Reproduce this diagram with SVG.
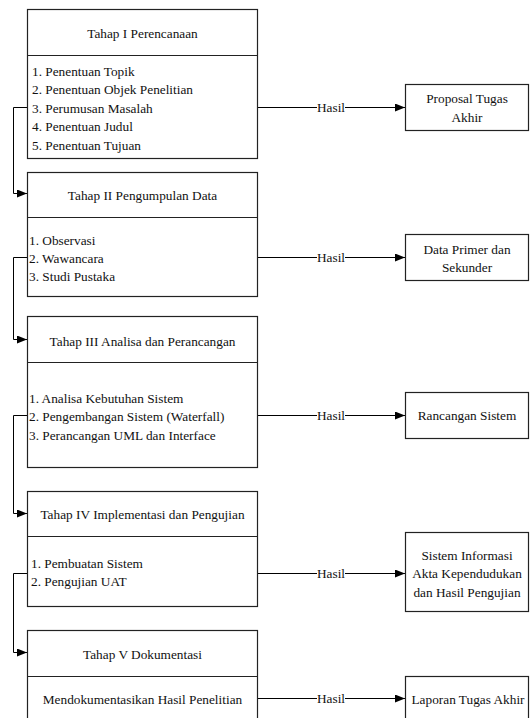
<svg xmlns="http://www.w3.org/2000/svg" width="530" height="718" viewBox="0 0 530 718">
  <style>
    .box { fill: #ffffff; stroke: #222222; stroke-width: 1.2; }
    .div { stroke: #222222; stroke-width: 1.2; }
    .ln { fill: none; stroke: #000000; stroke-width: 1; }
    text { font-family: 'Liberation Serif', Tinos, 'DejaVu Serif', Times, serif; font-size: 13.3px; fill: #111111; }
    .c { text-anchor: middle; }
  </style>
  <defs>
    <marker id="arrow" viewBox="0 0 10 8" refX="10" refY="4" markerWidth="10" markerHeight="8" markerUnits="userSpaceOnUse" orient="auto">
      <path d="M0,0 L10,4 L0,8 Z" fill="#000000"/>
    </marker>
  </defs>
  <rect x="0" y="0" width="530" height="718" fill="#ffffff"/>

  <!-- connectors -->
  <g id="connectors">
    <!-- stage to stage, along the left side -->
    <path class="ln" d="M27,107.5 H13.5 V193.5 H27" marker-end="url(#arrow)"/>
    <path class="ln" d="M27,257.5 H13.5 V339.5 H27" marker-end="url(#arrow)"/>
    <path class="ln" d="M27,415.5 H13.5 V513.5 H27" marker-end="url(#arrow)"/>
    <path class="ln" d="M27,573.5 H13.5 V652.5 H27" marker-end="url(#arrow)"/>
    <!-- stage to result -->
    <path class="ln" d="M257,107.5 H317"/>
    <path class="ln" d="M345,107.5 H405" marker-end="url(#arrow)"/>
    <text class="c" x="331" y="112">Hasil</text>
    <path class="ln" d="M257,257.5 H317"/>
    <path class="ln" d="M345,257.5 H405" marker-end="url(#arrow)"/>
    <text class="c" x="331" y="262">Hasil</text>
    <path class="ln" d="M257,415.5 H317"/>
    <path class="ln" d="M345,415.5 H405" marker-end="url(#arrow)"/>
    <text class="c" x="331" y="420">Hasil</text>
    <path class="ln" d="M257,573.5 H317"/>
    <path class="ln" d="M345,573.5 H405" marker-end="url(#arrow)"/>
    <text class="c" x="331" y="578">Hasil</text>
    <path class="ln" d="M257,698.5 H317"/>
    <path class="ln" d="M345,698.5 H405" marker-end="url(#arrow)"/>
    <text class="c" x="331" y="703">Hasil</text>
  </g>

  <!-- stage I -->
  <g id="tahap1">
    <rect class="box" x="27.5" y="9.5" width="230" height="149"/>
    <line class="div" x1="27.5" y1="55.5" x2="257.5" y2="55.5"/>
    <text class="c" x="142.5" y="37.5">Tahap I Perencanaan</text>
    <text x="32" y="75.5">1. Penentuan Topik</text>
    <text x="32" y="94">2. Penentuan Objek Penelitian</text>
    <text x="32" y="112.5">3. Perumusan Masalah</text>
    <text x="32" y="131">4. Penentuan Judul</text>
    <text x="32" y="150">5. Penentuan Tujuan</text>
  </g>

  <!-- stage II -->
  <g id="tahap2">
    <rect class="box" x="27.5" y="172.5" width="230" height="124"/>
    <line class="div" x1="27.5" y1="217.5" x2="257.5" y2="217.5"/>
    <text class="c" x="142.5" y="199.5">Tahap II Pengumpulan Data</text>
    <text x="29" y="244.5">1. Observasi</text>
    <text x="29" y="262.5">2. Wawancara</text>
    <text x="29" y="281">3. Studi Pustaka</text>
  </g>

  <!-- stage III -->
  <g id="tahap3">
    <rect class="box" x="27.5" y="316.5" width="230" height="151"/>
    <line class="div" x1="27.5" y1="362.5" x2="257.5" y2="362.5"/>
    <text class="c" x="142.5" y="345.5">Tahap III Analisa dan Perancangan</text>
    <text x="29" y="402.5">1. Analisa Kebutuhan Sistem</text>
    <text x="29" y="421">2. Pengembangan Sistem (Waterfall)</text>
    <text x="29" y="439.5">3. Perancangan UML dan Interface</text>
  </g>

  <!-- stage IV -->
  <g id="tahap4">
    <rect class="box" x="27.5" y="491.5" width="230" height="115"/>
    <line class="div" x1="27.5" y1="536.5" x2="257.5" y2="536.5"/>
    <text class="c" x="142.5" y="518.5">Tahap IV Implementasi dan Pengujian</text>
    <text x="31" y="567.5">1. Pembuatan Sistem</text>
    <text x="31" y="585.5">2. Pengujian UAT</text>
  </g>

  <!-- stage V -->
  <g id="tahap5">
    <rect class="box" x="27.5" y="630.5" width="230" height="110"/>
    <line class="div" x1="27.5" y1="676.5" x2="257.5" y2="676.5"/>
    <text class="c" x="142.5" y="658.5">Tahap V Dokumentasi</text>
    <text class="c" x="142.5" y="704">Mendokumentasikan Hasil Penelitian</text>
  </g>

  <!-- results -->
  <g id="hasil1">
    <rect class="box" x="405.5" y="84.5" width="123" height="46"/>
    <text class="c" x="467" y="102.5">Proposal Tugas</text>
    <text class="c" x="467" y="121.5">Akhir</text>
  </g>
  <g id="hasil2">
    <rect class="box" x="405.5" y="234.5" width="123" height="46"/>
    <text class="c" x="467" y="253.5">Data Primer dan</text>
    <text class="c" x="467" y="271.5">Sekunder</text>
  </g>
  <g id="hasil3">
    <rect class="box" x="405.5" y="392.5" width="123" height="46"/>
    <text class="c" x="467" y="420">Rancangan Sistem</text>
  </g>
  <g id="hasil4">
    <rect class="box" x="405.5" y="532.5" width="123" height="79"/>
    <text class="c" x="467" y="559.5">Sistem Informasi</text>
    <text class="c" x="467" y="578">Akta Kependudukan</text>
    <text class="c" x="467" y="596.5">dan Hasil Pengujian</text>
  </g>
  <g id="hasil5">
    <rect class="box" x="405.5" y="676.5" width="123" height="60"/>
    <text class="c" x="468" y="703.5">Laporan Tugas Akhir</text>
  </g>
</svg>
